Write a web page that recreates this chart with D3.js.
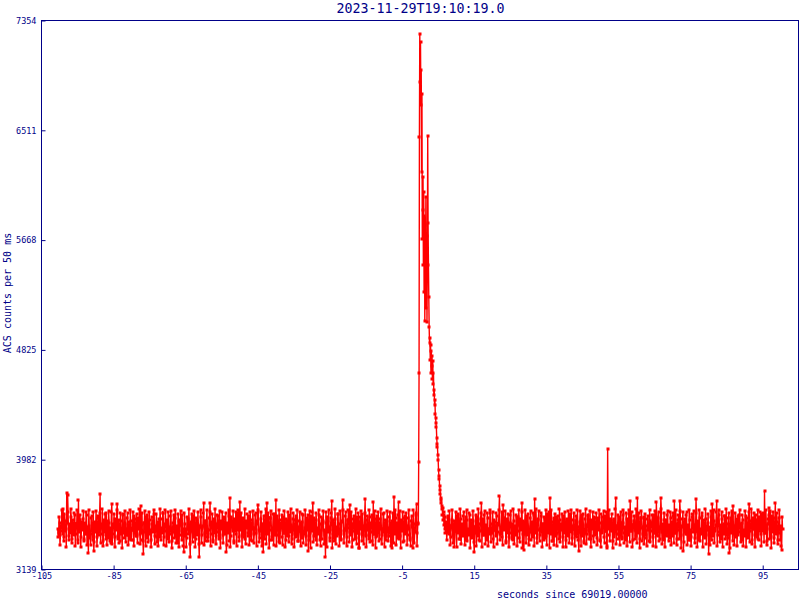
<!DOCTYPE html>
<html><head><meta charset="utf-8">
<script src="https://cdn.jsdelivr.net/npm/d3@7"></script>
<style>body{margin:0;background:#fff}</style>
</head><body><svg id="c" width="800" height="600"></svg>
<script>
const titleText = "2023-11-29T19:10:19.0";
const xLabel = "seconds since 69019.00000";
const yLabel = "ACS counts per 50 ms";
const xTicks = [-105,-85,-65,-45,-25,-5,15,35,55,75,95];
const yTicks = [3139,3982,4825,5668,6511,7354];
const xDomain = [-105, 105.2];
const yDomain = [3139, 7354];

// background before the burst, set A: t = preStart + i*preStep
const preStart = -100.5, preStep = 0.25;
const preCounts = [
3452,3418,3497,3402,3471,3438,3603,3385,3512,3447,3728,3710,3395,3488,3421,3540,3376,3466,3431,3558,
3409,3481,3362,3670,3443,3517,3389,3462,3528,3371,3494,3437,3555,3413,3263,3476,3398,3531,3452,3367,
3281,3503,3426,3468,3391,3547,3432,3718,3415,3486,3358,3519,3440,3401,3573,3429,3382,3495,3458,3346,
3639,3412,3474,3387,3526,3445,3641,3397,3469,3354,3508,3433,3562,3418,3379,3491,3448,3536,3404,3467,
3372,3513,3439,3485,3366,3552,3425,3460,3393,3534,3451,3408,3626,3477,3362,3256,3499,3430,3544,3384,
3466,3411,3520,3446,3369,3489,3427,3565,3400,3473,3352,3506,3441,3387,3529,3455,3416,3569,3392,3478,
3435,3521,3377,3462,3408,3549,3443,3361,3497,3426,3538,3399,3470,3346,3511,3437,3482,3405,3556,3421,
3276,3492,3448,3384,3530,3415,3467,3235,3501,3436,3547,3390,3458,3372,3519,3429,3483,3235,3465,3541,
3403,3476,3649,3420,3357,3509,3444,3391,3532,3649,3412,3487,3366,3524,3439,3453,3398,3561,3427,3470,
3383,3515,3449,3406,3543,3431,3468,3273,3496,3418,3550,3685,3395,3481,3437,3359,3527,3452,3414,3569,
3442,3389,3659,3466,3405,3537,3423,3490,3370,3511,3456,3399,3546,3432,3478,3361,3520,3447,3409,3558,
3418,3485,3634,3441,3380,3523,3459,3401,3273,3494,3436,3552,3649,3414,3473,3368,3531,3444,3392,3564,
3428,3471,3670,3405,3489,3350,3517,3439,3461,3386,3541,3422,3476,3366,3509,3451,3397,3555,3430,3484,
3371,3526,3445,3413,3548,3402,3467,3356,3515,3435,3492,3380,3561,3424,3458,3393,3533,3441,3281,3502,
3419,3547,3438,3651,3396,3474,3362,3521,3449,3411,3557,3433,3488,3374,3512,3446,3402,3233,3495,3540,
3427,3468,3382,3536,3664,3415,3480,3357,3523,3442,3399,3564,3431,3490,3369,3508,3672,3437,3413,3551,
3445,3388,3517,3460,3634,3402,3476,3363,3529,3438,3491,3381,3545,3420,3304,3497,3451,3409,3566,3434,
3472,3677,3398,3518,3443,3375,3539,3426,3484,3358,3657,3412,3463,3391,3550,3437,3495,3371,3527,3448,
3406,3562,3429,3477,3366,3514,3454,3397,3543,3421,3488,3302,3469,3693,3410,3532,3441,3383,3657,3458,
3395,3520,3436,3482,3361,3548,3425,3471,3404,3537,3449,3378,3511,3466,3302,3490,3433,3555,3641,3419,
3487];

// background before the burst, set B (in between A): t = preStartB + i*preStep
const preStartB = -100.375;
const preCountsB = [
3388,3541,3325,3470,3592,3409,3355,3566,3431,3312,3498,3580,3367,3452,3603,3339,3519,3401,3574,3320,
3487,3596,3343,3428,3561,3314,3505,3442,3589,3358,3411,3577,3330,3469,3598,3382,3326,3548,3415,3584,
3351,3464,3590,3322,3536,3407,3571,3345,3482,3600,3317,3426,3563,3374,3329,3511,3586,3360,3438,3579,
3334,3490,3562,3310,3448,3595,3370,3521,3339,3576,3413,3305,3557,3459,3588,3348,3403,3570,3327,3507,
3592,3366,3445,3583,3318,3528,3396,3565,3341,3478,3604,3333,3420,3573,3356,3495,3587,3321,3457,3560,
3347,3582,3419,3308,3539,3472,3597,3336,3451,3568,3385,3316,3530,3601,3362,3443,3575,3328,3484,3593,
3319,3503,3578,3353,3436,3590,3307,3466,3555,3378,3599,3340,3422,3567,3311,3517,3585,3369,3449,3323,
3574,3398,3315,3545,3463,3602,3331,3490,3563,3350,3427,3588,3313,3532,3405,3581,3337,3476,3596,3344,
3458,3570,3324,3514,3392,3593,3357,3440,3579,3318,3501,3566,3349,3417,3605,3332,3486,3553,3372,3591,
3306,3468,3584,3343,3529,3410,3572,3328,3453,3598,3361,3312,3540,3481,3587,3346,3432,3577,3320,3509,
3595,3354,3446,3569,3309,3523,3388,3600,3335,3471,3562,3416,3326,3583,3365,3497,3591,3340,3455,3576,
3322,3513,3594,3351,3434,3578,3316,3485,3550,3373,3603,3338,3425,3571,3304,3537,3589,3362,3461,3329,
3567,3406,3319,3548,3474,3597,3345,3493,3560,3327,3418,3586,3310,3526,3399,3580,3352,3467,3601,3334,
3450,3575,3313,3518,3390,3592,3359,3437,3583,3321,3506,3568,3342,3412,3599,3330,3491,3556,3368,3588,
3303,3472,3581,3348,3534,3414,3574,3325,3458,3596,3363,3317,3545,3479,3590,3337,3429,3579,3314,3512,
3598,3356,3441,3572,3306,3520,3383,3602,3331,3466,3565,3409,3323,3585,3370,3500,3593,3344,3451,3578,
3318,3516,3597,3347,3430,3582,3312,3488,3553,3376,3600,3336,3422,3569,3302,3540,3586,3358,3464,3331,
3570,3402,3315,3551,3477,3594,3349,3496,3558,3324,3415,3589,3307,3530,3395,3577,3354,3470,3603,3338,
3447,3573,3309,3521,3393,3591,3361,3433,3580,3320,3509,3571,3345,3418,3596,3327,3494,3559,3371,3585,
3305,3475,3584,3352,3538,3411,3576,3329,3462,3593,3366,3319,3547,3483,3592,3341,3426,3574,3316,3498];

// the burst: t = peakStart + i*peakStep
const peakStart = -0.4, peakStep = 0.1;
const peakCounts = [
3966,4644,6459,7252,6881,7188,6707,6976,6190,6792,
5680,5900,6150,5480,6037,5270,5850,5050,5782,5526,
6000,5150,5700,5040,5500,6464,5797,5480,5232,5002,
4880,4913,4750,4860,4650,4820,4700,4780,4600,4740,
4560,4650,4480,4520,4400,4440,4330,4300,4260,4230,
4150,4100,4080,4020,3980,3900,3860,3830,3780,3750,
3720,3690,3650,3670,3600,3630,3560,3610,3520,3580,
3480,3560,3450,3540,3420,3500];

// background after the burst, set A: t = postStart + i*postStep
const postStart = 7.25, postStep = 0.25;
const postCounts = [
3496,3430,3538,3412,3475,3389,3521,3447,3402,3314,3484,3436,3553,3418,3467,3372,3530,3441,3398,3546,
3425,3489,3364,3517,3452,3406,3561,3433,3478,3381,3512,3271,3463,3420,3544,3395,3487,3358,3526,3651,
3439,3401,3557,3428,3471,3366,3535,3448,3412,3569,3431,3492,3377,3518,3445,3393,3549,3424,3480,3703,
3415,3463,3386,3634,3440,3501,3359,3528,3437,3474,3392,3556,3420,3489,3368,3515,3450,3404,3542,3432,
3477,3379,3523,3444,3651,3410,3290,3497,3436,3548,3401,3469,3373,3532,3426,3485,3391,3560,3680,3419,
3458,3384,3519,3443,3405,3551,3429,3490,3362,3527,3446,3399,3564,3435,3472,3685,3411,3506,3357,3538,
3448,3393,3545,3422,3481,3370,3516,3439,3460,3388,3553,3417,3494,3365,3530,3442,3403,3567,3428,3476,
3380,3521,3451,3408,3546,3433,3469,3281,3504,3427,3558,3396,3483,3361,3529,3445,3412,3552,3437,3487,
3372,3519,3449,3400,3541,3426,3474,3383,3534,3440,3498,3367,3562,3418,3466,3391,3547,3431,3305,4061,
3452,3402,3529,3438,3485,3359,3516,3444,3685,3413,3471,3377,3539,3429,3493,3386,3555,3420,3463,3368,
3524,3447,3401,3568,3664,3434,3478,3363,3512,3441,3395,3550,3685,3426,3488,3374,3533,3456,3409,3545,
3430,3472,3381,3527,3443,3360,3514,3437,3496,3389,3559,3419,3467,3657,3402,3538,3448,3376,3685,3425,
3491,3365,3520,3442,3407,3557,3431,3479,3384,3536,3450,3398,3548,3664,3423,3486,3371,3517,3439,3664,
3404,3469,3528,3281,3493,3436,3555,3413,3478,3362,3521,3445,3390,3564,3427,3482,3379,3682,3433,3505,
3368,3537,3449,3411,3551,3422,3474,3386,3530,3441,3497,3256,3466,3418,3543,3644,3395,3512,3438,3479,
3664,3402,3559,3427,3483,3370,3524,3446,3409,3548,3433,3490,3378,3535,3263,3461,3420,3553,3626,3437,
3472,3388,3526,3445,3401,3561,3429,3487,3364,3518,3440,3396,3546,3423,3477,3382,3644,3434,3509,3369,
3532,3451,3405,3557,3426,3480,3375,3540,3443,3412,3565,3431,3494,3741,3418,3470,3359,3523,3608,3447,
3398,3549,3428,3484,3381,3651,3439,3502,3366,3535,3421,3476,3289,3450];

// background after the burst, set B: t = postStartB + i*postStep
const postStartB = 7.375;
const postCountsB = [
3362,3548,3417,3587,3324,3471,3593,3340,3509,3432,3579,3311,3455,3566,3376,3602,3335,3492,3415,3584,
3328,3540,3598,3357,3444,3573,3306,3519,3388,3590,3347,3466,3561,3320,3483,3600,3369,3437,3576,3315,
3526,3401,3588,3338,3478,3569,3318,3451,3595,3353,3424,3582,3309,3504,3440,3571,3333,3487,3599,3364,
3413,3577,3326,3535,3459,3591,3344,3420,3563,3313,3497,3586,3372,3428,3603,3337,3470,3555,3321,3542,
3594,3350,3462,3580,3307,3514,3409,3597,3342,3484,3565,3325,3438,3589,3366,3503,3574,3317,3456,3601,
3339,3528,3585,3359,3447,3570,3312,3491,3544,3381,3596,3330,3419,3578,3304,3532,3592,3355,3473,3327,
3563,3410,3321,3549,3468,3600,3348,3489,3567,3314,3427,3583,3308,3522,3397,3587,3343,3461,3598,3335,
3453,3572,3316,3511,3386,3593,3363,3430,3585,3323,3499,3568,3346,3416,3604,3331,3480,3558,3374,3590,
3310,3465,3581,3351,3537,3405,3576,3329,3449,3597,3360,3315,3543,3476,3589,3342,3434,3580,3319,3506,
3599,3356,3443,3567,3305,3525,3391,3601,3336,3474,3561,3412,3327,3584,3371,3494,3595,3345,3458,3573,
3320,3518,3594,3349,3436,3579,3311,3482,3552,3377,3602,3339,3421,3570,3303,3536,3588,3361,3467,3332,
3568,3404,3317,3547,3472,3596,3350,3493,3559,3322,3418,3587,3309,3527,3398,3582,3356,3469,3600,3337,
3446,3575,3312,3516,3394,3590,3358,3435,3582,3324,3502,3569,3344,3420,3597,3329,3488,3557,3373,3586,
3307,3470,3583,3350,3530,3408,3577,3326,3460,3594,3365,3318,3541,3479,3591,3340,3431,3573,3315,3510,
3596,3357,3439,3571,3308,3521,3384,3603,3333,3464,3566,3407,3325,3585,3368,3498,3592,3343,3452,3577,
3319,3515,3598,3352,3433,3581,3313,3486,3551,3375,3601,3335,3423,3572,3306,3538,3585,3359,3466,3330,
3571,3403,3316,3550,3475,3595,3347,3495,3560,3321,3414,3588,3310,3531,3396,3579,3353,3471,3602,3336,
3448,3574,3311,3519,3391,3592,3362,3432,3584,3322,3505,3570,3348,3419,3598,3328,3490,3556,3370,3587,
3304,3473,3582,3346,3535,3412,3575,3332,3457,3595,3367,3320,3544];

const data = [];
preCounts.forEach((v,i)=>data.push({t:preStart+i*preStep, v}));
preCountsB.forEach((v,i)=>data.push({t:preStartB+i*preStep, v}));
peakCounts.forEach((v,i)=>data.push({t:peakStart+i*peakStep, v}));
postCounts.forEach((v,i)=>data.push({t:postStart+i*postStep, v}));
postCountsB.forEach((v,i)=>data.push({t:postStartB+i*postStep, v}));
data.sort((a,b)=>a.t-b.t);

const navy = "#000088";
const red = "#ff0000";
const mono = "'DejaVu Sans Mono', monospace";
const L = 41.5, R = 799.5, T = 20.5, B = 569.5;

const svg = d3.select("#c");
const x = d3.scaleLinear().domain(xDomain).range([L, R]);
const y = d3.scaleLinear().domain(yDomain).range([B, T]);

svg.append("clipPath").attr("id","clip").append("rect")
  .attr("x",L).attr("y",T-2).attr("width",R-L).attr("height",B-T+2);

const g = svg.append("g").attr("clip-path","url(#clip)");
g.append("path").datum(data)
  .attr("fill","none").attr("stroke",red).attr("stroke-width",1.4)
  .attr("d", d3.line().x(d=>x(d.t)).y(d=>y(d.v)));
g.selectAll("rect.m").data(data).join("rect").attr("class","m")
  .attr("x",d=>Math.round(x(d.t))-1.5).attr("y",d=>Math.round(y(d.v))-1.5)
  .attr("width",3).attr("height",3).attr("fill",red);

// axes
const yAxis = d3.axisLeft(y).tickValues(yTicks).tickSize(-4).tickPadding(5).tickFormat(d=>String(d));
const xAxis = d3.axisBottom(x).tickValues(xTicks).tickSize(-4).tickPadding(3).tickFormat(d=>String(d));
const ga = svg.append("g").attr("transform",`translate(${L},0)`).call(yAxis);
const gb = svg.append("g").attr("transform",`translate(0,${B})`).call(xAxis);
[ga,gb].forEach(a=>{
  a.select(".domain").remove();
  a.selectAll("line").attr("stroke",navy);
  a.selectAll("text").attr("fill",navy).style("font-family",mono).style("font-size","8.5px");
});

svg.append("rect").attr("x",L).attr("y",T).attr("width",R-L-1).attr("height",B-T)
  .attr("fill","none").attr("stroke",navy).attr("stroke-width",1);

svg.append("text").attr("x",(L+R)/2).attr("y",13.3).attr("text-anchor","middle")
  .attr("fill",navy).style("font-family",mono).style("font-size","13.3px").text(titleText);
svg.append("text").attr("x",497).attr("y",598).attr("text-anchor","start")
  .attr("fill",navy).style("font-family",mono).style("font-size","10px").text(xLabel);
svg.append("text").attr("transform","translate(10.5,293) rotate(-90)").attr("text-anchor","middle")
  .attr("fill",navy).style("font-family",mono).style("font-size","10px").text(yLabel);
</script></body></html>
